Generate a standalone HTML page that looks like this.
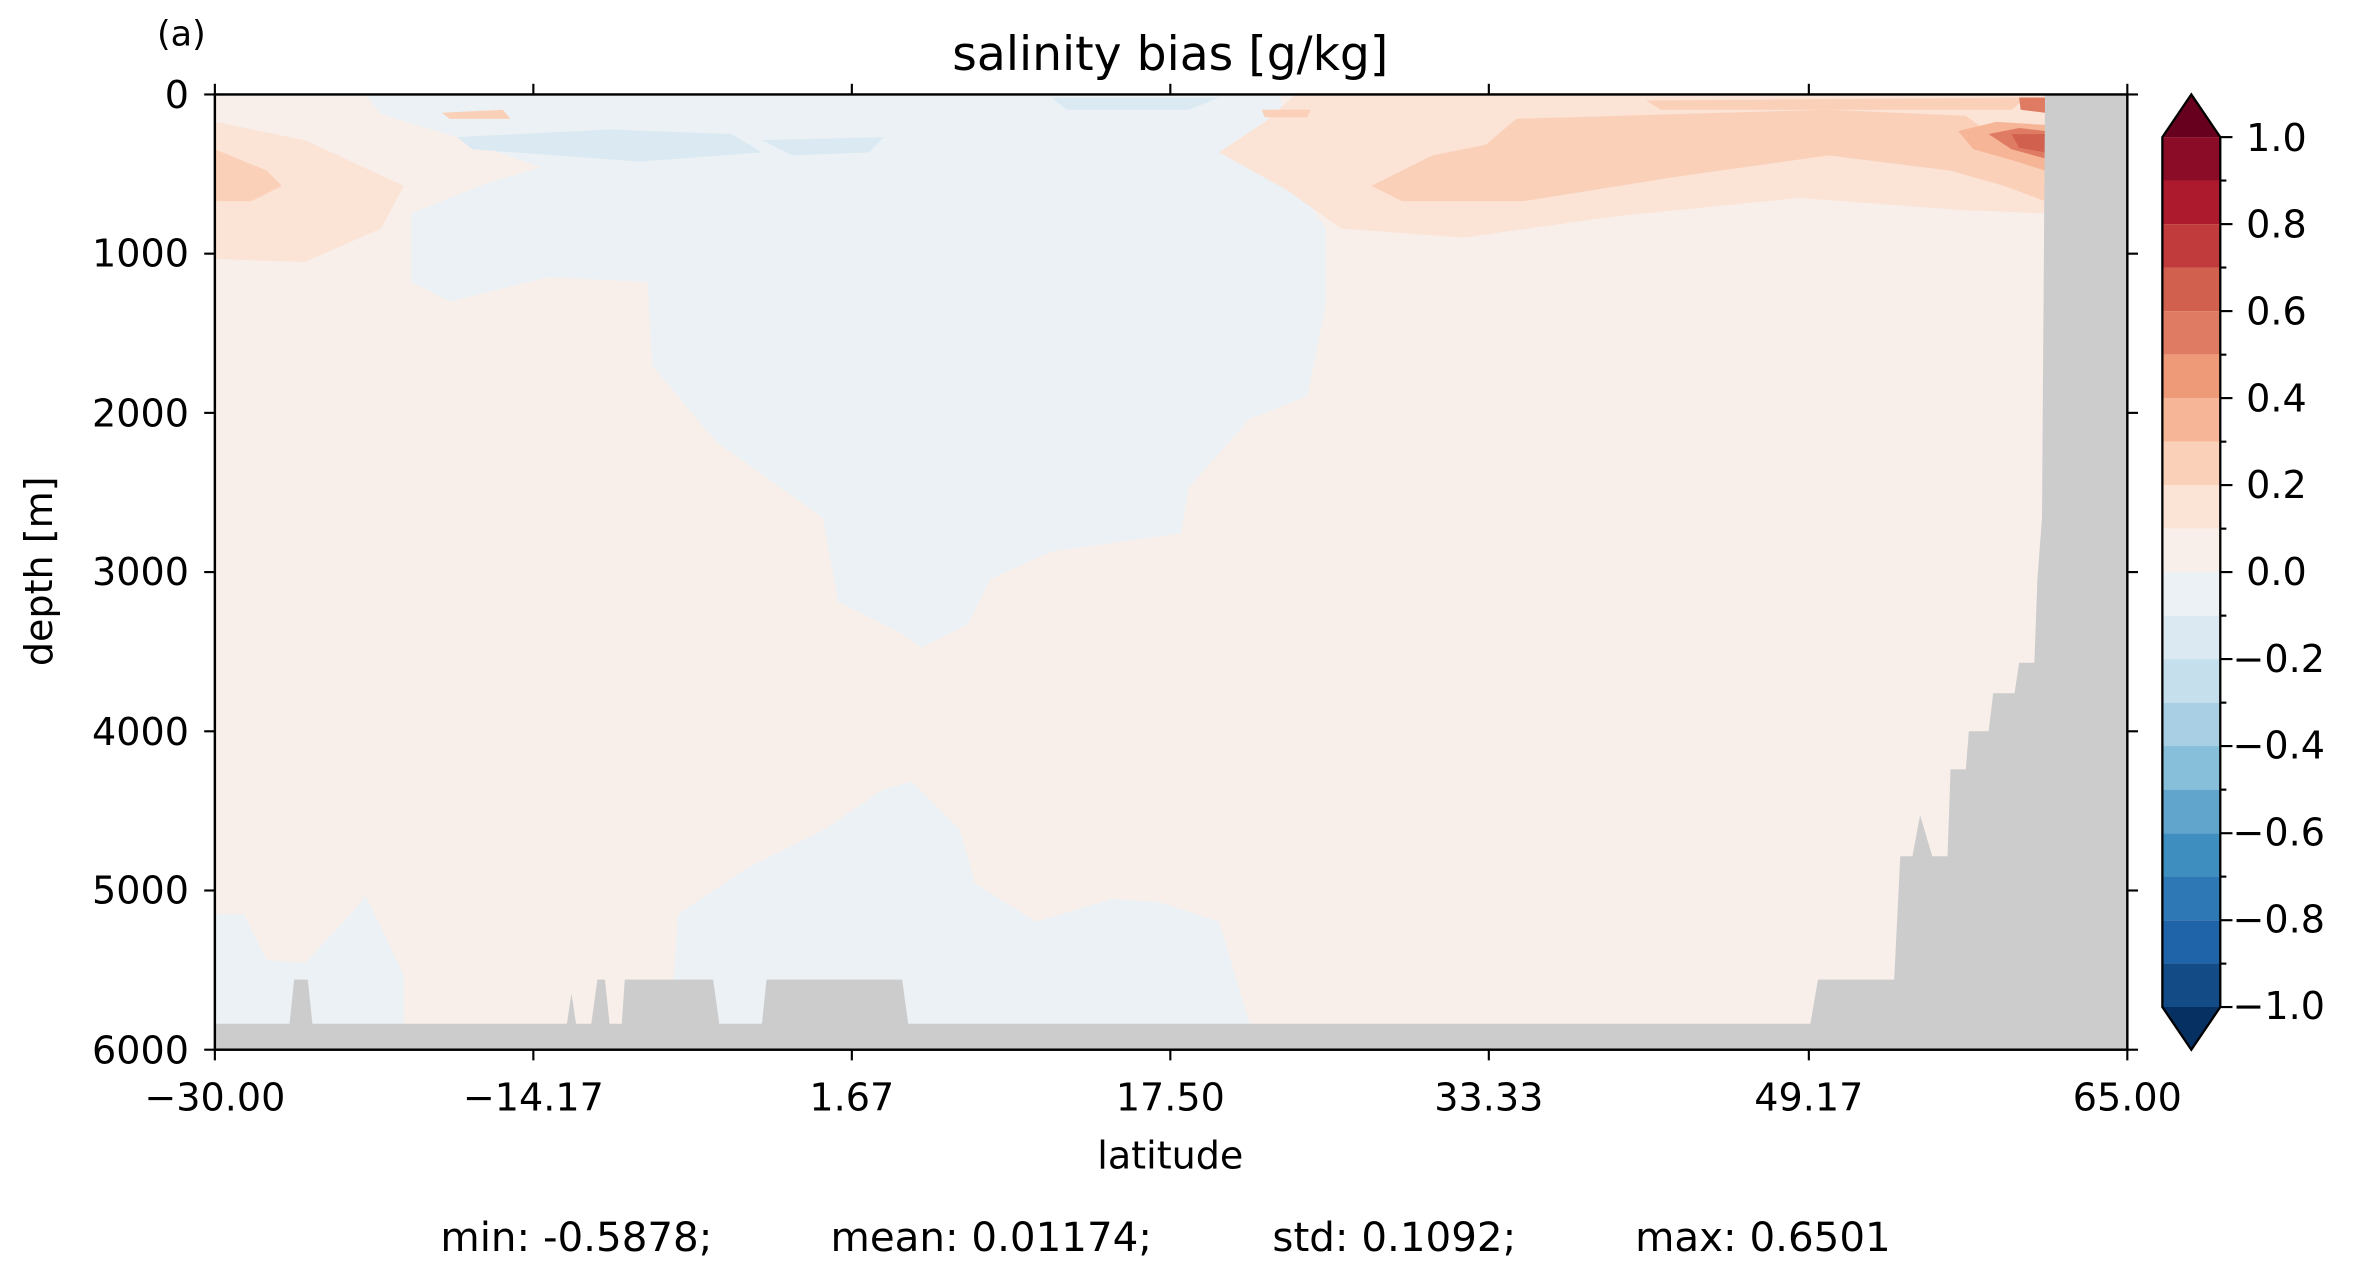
<!DOCTYPE html>
<html><head><meta charset="utf-8"><style>html,body{margin:0;padding:0;background:#fff}svg{display:block}text{font-family:"DejaVu Sans","Liberation Sans",sans-serif;fill:#000}</style></head>
<body>
<svg width="2362" height="1263" viewBox="0 0 1550 829" preserveAspectRatio="none" xmlns="http://www.w3.org/2000/svg">
<rect width="1550" height="829" fill="#fff"/>
<rect x="141" y="62" width="1255" height="627" fill="#f8efeb"/>
<polygon fill="#ebf1f4" points="240,62 840,62 850,120 870,150 870,200 858,260 820,275 780,320 775,350 690,362 650,380 635,410 605,425 590,415 550,395 540,340 470,290 428,240 425,185 360,182 295,198 270,185 270,140 320,120 355,110 300,90 250,75"/>
<polygon fill="#ebf1f4" points="141,600 160,600 175,630 200,632 230,600 240,588 265,640 265,672 141,672"/>
<polygon fill="#ebf1f4" points="440,672 445,600 490,570 540,545 580,518 598,513 630,545 640,580 680,605 730,590 760,592 800,605 820,672"/>
<polygon fill="#dae9f2" points="300,90 400,85 480,88 500,100 420,106 310,98"/>
<polygon fill="#dae9f2" points="500,92 580,90 570,100 520,102"/>
<polygon fill="#dae9f2" points="690,64 800,64 780,72 700,72"/>
<polygon fill="#fbe3d6" points="141,80 200,92 265,122 250,150 200,172 141,170"/>
<polygon fill="#fbd0b9" points="141,98 175,112 185,122 165,132 141,132"/>
<polygon fill="#fbe3d6" points="850,62 1342,62 1342,140 1290,138 1180,130 1060,142 960,156 880,150 845,125 800,100 830,80"/>
<polygon fill="#fbd0b9" points="900,122 940,102 975,95 995,78 1200,72 1290,76 1320,98 1342,108 1342,132 1315,122 1280,112 1200,102 1100,116 1000,132 920,132"/>
<polygon fill="#fbd0b9" points="1080,66 1330,64 1320,72 1090,72"/>
<polygon fill="#f6b596" points="1285,86 1310,80 1342,82 1342,112 1320,105 1295,98"/>
<polygon fill="#e07b63" points="1305,88 1325,84 1342,86 1342,104 1320,98"/>
<polygon fill="#d1604f" points="1320,88 1342,88 1342,100 1325,97"/>
<polygon fill="#e07b63" points="1325,64 1342,64 1342,74 1326,72"/>
<polygon fill="#fbd0b9" points="290,74 330,72 335,78 295,78"/>
<polygon fill="#fbd0b9" points="828,72 860,72 858,77 830,77"/>
<polygon fill="#cccccc" points="141,672 190,672 193,643 202,643 205,672 372,672 375,652 378,672 388,672 392,643 397,643 400,672 408,672 410,643 468,643 472,672 500,672 503,643 592,643 596,672 1188,672 1193,643 1243,643 1247,562 1255,562 1260,535 1268,562 1278,562 1280,505 1290,505 1292,480 1305,480 1308,455 1322,455 1325,435 1335,435 1337,380 1340,340 1342,62 1396,62 1396,689 141,689"/>
<rect x="141" y="62" width="1255" height="627" fill="none" stroke="#000" stroke-width="1.6"/>
<g stroke="#000" stroke-width="1.4">
<line x1="134" y1="62" x2="141" y2="62"/><line x1="134" y1="166.5" x2="141" y2="166.5"/><line x1="134" y1="271" x2="141" y2="271"/><line x1="134" y1="375.5" x2="141" y2="375.5"/><line x1="134" y1="480" x2="141" y2="480"/><line x1="134" y1="584.5" x2="141" y2="584.5"/><line x1="134" y1="689" x2="141" y2="689"/>
<line x1="1396" y1="62" x2="1403" y2="62"/><line x1="1396" y1="166.5" x2="1403" y2="166.5"/><line x1="1396" y1="271" x2="1403" y2="271"/><line x1="1396" y1="375.5" x2="1403" y2="375.5"/><line x1="1396" y1="480" x2="1403" y2="480"/><line x1="1396" y1="584.5" x2="1403" y2="584.5"/><line x1="1396" y1="689" x2="1403" y2="689"/>
<line x1="141" y1="689" x2="141" y2="696"/><line x1="350" y1="689" x2="350" y2="696"/><line x1="559" y1="689" x2="559" y2="696"/><line x1="768" y1="689" x2="768" y2="696"/><line x1="977" y1="689" x2="977" y2="696"/><line x1="1187" y1="689" x2="1187" y2="696"/><line x1="1396" y1="689" x2="1396" y2="696"/>
<line x1="141" y1="55" x2="141" y2="62"/><line x1="350" y1="55" x2="350" y2="62"/><line x1="559" y1="55" x2="559" y2="62"/><line x1="768" y1="55" x2="768" y2="62"/><line x1="977" y1="55" x2="977" y2="62"/><line x1="1187" y1="55" x2="1187" y2="62"/><line x1="1396" y1="55" x2="1396" y2="62"/>
</g>
<g font-size="25" text-anchor="end">
<text x="124" y="71">0</text><text x="124" y="175">1000</text><text x="124" y="280">2000</text><text x="124" y="384">3000</text><text x="124" y="489">4000</text><text x="124" y="593">5000</text><text x="124" y="698">6000</text>
</g>
<g font-size="25" text-anchor="middle">
<text x="141" y="729">−30.00</text><text x="350" y="729">−14.17</text><text x="559" y="729">1.67</text><text x="768" y="729">17.50</text><text x="977" y="729">33.33</text><text x="1187" y="729">49.17</text><text x="1396" y="729">65.00</text>
<text x="768" y="767">latitude</text>
<text x="768" y="46" font-size="31">salinity bias [g/kg]</text>
</g>
<text x="103" y="30" font-size="23">(a)</text>
<text transform="translate(34,375) rotate(-90)" font-size="25" text-anchor="middle">depth [m]</text>
<g font-size="26.5">
<text x="289" y="821">min: -0.5878;</text><text x="545" y="821">mean: 0.01174;</text><text x="835" y="821">std: 0.1092;</text><text x="1073" y="821">max: 0.6501</text>
</g>
<g>
<polygon points="1419,90 1438,62 1457,90" fill="#67001f"/>
<polygon points="1419,661 1438,689 1457,661" fill="#053061"/>
<rect x="1419" y="90.0" width="38" height="28.6" fill="#8a0c26"/>
<rect x="1419" y="118.5" width="38" height="28.6" fill="#ae1a2d"/>
<rect x="1419" y="147.1" width="38" height="28.6" fill="#c13a3c"/>
<rect x="1419" y="175.6" width="38" height="28.6" fill="#d1604f"/>
<rect x="1419" y="204.2" width="38" height="28.6" fill="#e07b63"/>
<rect x="1419" y="232.8" width="38" height="28.6" fill="#ee9a79"/>
<rect x="1419" y="261.3" width="38" height="28.6" fill="#f6b596"/>
<rect x="1419" y="289.9" width="38" height="28.6" fill="#fbd0b9"/>
<rect x="1419" y="318.4" width="38" height="28.6" fill="#fbe3d6"/>
<rect x="1419" y="347.0" width="38" height="28.6" fill="#f8efeb"/>
<rect x="1419" y="375.5" width="38" height="28.6" fill="#ebf1f4"/>
<rect x="1419" y="404.1" width="38" height="28.6" fill="#dae9f2"/>
<rect x="1419" y="432.6" width="38" height="28.6" fill="#c6dfed"/>
<rect x="1419" y="461.2" width="38" height="28.6" fill="#a8cfe4"/>
<rect x="1419" y="489.7" width="38" height="28.6" fill="#87beda"/>
<rect x="1419" y="518.3" width="38" height="28.6" fill="#61a5cd"/>
<rect x="1419" y="546.9" width="38" height="28.6" fill="#3f8ec0"/>
<rect x="1419" y="575.4" width="38" height="28.6" fill="#2e78b5"/>
<rect x="1419" y="604.0" width="38" height="28.6" fill="#1f63a8"/>
<rect x="1419" y="632.5" width="38" height="28.5" fill="#134b87"/>
<polygon points="1419,90 1438,62 1457,90 1457,661 1438,689 1419,661" fill="none" stroke="#000" stroke-width="1.5"/>
<g stroke="#000" stroke-width="1.4">
<line x1="1457" y1="90" x2="1465" y2="90"/><line x1="1457" y1="147.1" x2="1465" y2="147.1"/><line x1="1457" y1="204.2" x2="1465" y2="204.2"/><line x1="1457" y1="261.3" x2="1465" y2="261.3"/><line x1="1457" y1="318.4" x2="1465" y2="318.4"/><line x1="1457" y1="375.5" x2="1465" y2="375.5"/><line x1="1457" y1="432.6" x2="1465" y2="432.6"/><line x1="1457" y1="489.7" x2="1465" y2="489.7"/><line x1="1457" y1="546.9" x2="1465" y2="546.9"/><line x1="1457" y1="604" x2="1465" y2="604"/><line x1="1457" y1="661" x2="1465" y2="661"/>
<line x1="1457" y1="118.5" x2="1461" y2="118.5"/><line x1="1457" y1="175.6" x2="1461" y2="175.6"/><line x1="1457" y1="232.8" x2="1461" y2="232.8"/><line x1="1457" y1="289.9" x2="1461" y2="289.9"/><line x1="1457" y1="347" x2="1461" y2="347"/><line x1="1457" y1="404.1" x2="1461" y2="404.1"/><line x1="1457" y1="461.2" x2="1461" y2="461.2"/><line x1="1457" y1="518.3" x2="1461" y2="518.3"/><line x1="1457" y1="575.4" x2="1461" y2="575.4"/><line x1="1457" y1="632.5" x2="1461" y2="632.5"/>
</g>
<g font-size="25">
<text x="1474" y="99">1.0</text><text x="1474" y="156">0.8</text><text x="1474" y="213">0.6</text><text x="1474" y="270">0.4</text><text x="1474" y="327">0.2</text><text x="1474" y="384">0.0</text><text x="1465" y="441">−0.2</text><text x="1465" y="498">−0.4</text><text x="1465" y="555">−0.6</text><text x="1465" y="612">−0.8</text><text x="1465" y="669">−1.0</text>
</g>
</g>
</svg>
</body></html>
